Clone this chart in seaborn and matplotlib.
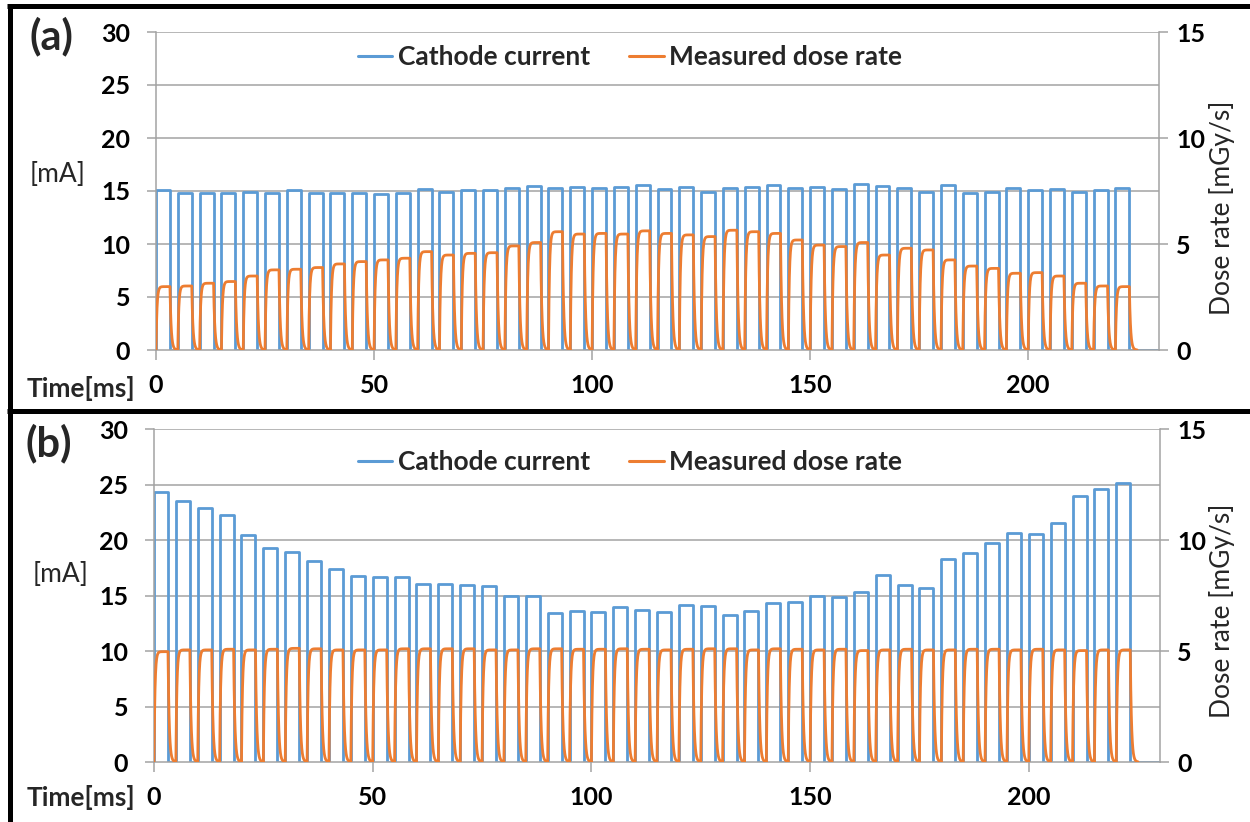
import numpy as np
import pandas as pd
import matplotlib
matplotlib.use("Agg")
import matplotlib.pyplot as plt
from matplotlib.lines import Line2D
import seaborn as sns

# ---- pulse-train timing [ms] ----
PERIOD_MS = 5.0
ON_MS = 3.2
T_END_MS = 230.0
TAU_RISE = 0.22
TAU_FALL = 0.28

# ---- (a) constant cathode current: plateau of each pulse [mA] ----
current_a = [15.10, 14.85, 14.80, 14.85, 14.95, 14.85, 15.05, 14.80, 14.85, 14.80,
             14.70, 14.85, 15.15, 14.95, 15.10, 15.05, 15.25, 15.45, 15.25, 15.40,
             15.25, 15.35, 15.55, 15.15, 15.40, 14.95, 15.25, 15.35, 15.55, 15.25,
             15.40, 15.15, 15.70, 15.45, 15.25, 14.95, 15.55, 14.85, 14.95, 15.25,
             15.10, 15.15, 14.95, 15.05, 15.25]
# measured dose rate of each pulse [mGy/s]
dose_a = [2.99, 3.02, 3.15, 3.23, 3.49, 3.78, 3.81, 3.89, 4.06, 4.17,
          4.25, 4.33, 4.64, 4.48, 4.56, 4.59, 4.91, 5.07, 5.58, 5.47,
          5.50, 5.47, 5.62, 5.50, 5.43, 5.35, 5.65, 5.58, 5.50, 5.19,
          4.95, 4.88, 5.07, 4.48, 4.80, 4.72, 4.25, 3.96, 3.85, 3.62,
          3.65, 3.49, 3.15, 3.02, 2.99]

# ---- (b) regulated dose rate: cathode current of each pulse [mA] ----
current_b = [24.35, 23.54, 22.85, 22.25, 20.45, 19.25, 18.95, 18.14, 17.36, 16.75,
             16.63, 16.63, 16.03, 16.00, 15.95, 15.86, 14.95, 14.95, 13.45, 13.63,
             13.54, 13.93, 13.69, 13.54, 14.14, 14.05, 13.24, 13.63, 14.29, 14.44,
             14.95, 14.83, 15.35, 16.85, 15.95, 15.65, 18.26, 18.86, 19.70, 20.60,
             20.54, 21.56, 23.96, 24.56, 25.10]
dose_b = [4.97, 5.05, 5.05, 5.08, 5.05, 5.08, 5.12, 5.10, 5.05, 5.05,
          5.05, 5.10, 5.10, 5.10, 5.10, 5.05, 5.05, 5.10, 5.10, 5.08,
          5.08, 5.10, 5.08, 5.05, 5.08, 5.10, 5.10, 5.05, 5.10, 5.08,
          5.05, 5.08, 5.02, 5.05, 5.08, 5.05, 5.05, 5.08, 5.08, 5.05,
          5.08, 5.05, 5.02, 5.05, 5.05]

x_ticks = [0, 50, 100, 150, 200]
left_ticks = [0, 5, 10, 15, 20, 25, 30]
right_ticks = [0, 5, 10, 15]

BLUE = "#5B9BD5"
ORANGE = "#ED7D31"
GRID = "#A3A3A3"

sns.set_theme(style="white")
plt.rcParams["font.family"] = ["Lato", "DejaVu Sans"]


def current_trace(levels):
    """Rectangular current pulses, one per period."""
    t, v = [], []
    for k, a in enumerate(levels):
        t0 = k * PERIOD_MS
        t += [t0, t0, t0 + ON_MS, t0 + ON_MS]
        v += [0.0, a, a, 0.0]
    t.append(T_END_MS)
    v.append(0.0)
    return pd.DataFrame({"t": t, "v": v})


def dose_trace(levels):
    """Detector response: first-order rise and decay around each pulse."""
    lv = np.asarray(levels, dtype=float)
    t = np.arange(0.0, len(lv) * PERIOD_MS, 0.02)
    k = np.minimum((t // PERIOD_MS).astype(int), len(lv) - 1)
    ph = t - k * PERIOD_MS
    amp = lv[k]
    rising = amp * (1 - np.exp(-ph / TAU_RISE))
    top = amp * (1 - np.exp(-ON_MS / TAU_RISE))
    falling = top * np.exp(-np.clip(ph - ON_MS, 0, None) / TAU_FALL)
    v = np.where(ph < ON_MS, rising, falling)
    return pd.DataFrame({"t": t, "v": v})


fig = plt.figure(figsize=(12.5, 8.22), dpi=100)
W, H = 1250.0, 822.0

panels = [
    dict(tag="(a)", cur=current_a, dose=dose_a,
         box=(156, 1159, 32, 350), tag_xy=(51, 36), legend_y=57,
         mA_xy=(58, 175), time_y=388, dose_lbl_y=208),
    dict(tag="(b)", cur=current_b, dose=dose_b,
         box=(154, 1160, 429, 762), tag_xy=(49, 443), legend_y=462,
         mA_xy=(61, 575), time_y=797, dose_lbl_y=611),
]

TICK_FS = 18
LEG_FS = 19
for p in panels:
    x0, x1, ytop, ybot = p["box"]
    ax = fig.add_axes([x0 / W, 1 - ybot / H, (x1 - x0) / W, (ybot - ytop) / H])
    ax.set_facecolor("none")

    sns.lineplot(data=current_trace(p["cur"]), x="t", y="v", ax=ax, color=BLUE,
                 lw=2.0, estimator=None, sort=False, legend=False)
    ax2 = ax.twinx()
    sns.lineplot(data=dose_trace(p["dose"]), x="t", y="v", ax=ax2, color=ORANGE,
                 lw=2.0, estimator=None, sort=False, legend=False)

    ax.set_xlim(0, T_END_MS)
    ax.set_ylim(0, 30)
    ax2.set_ylim(0, 15)
    ax.set_xticks(x_ticks)
    ax.set_yticks(left_ticks)
    ax2.set_yticks(right_ticks)
    for a in (ax, ax2):
        a.set_xlabel("")
        a.set_ylabel("")

    ax.grid(False)
    ax2.grid(False)
    for yv in left_ticks[1:]:
        ax.axhline(yv, color=GRID, lw=1.1, zorder=0)

    for s in ("top", "right"):
        ax.spines[s].set_visible(False)
    for s in ("top", "left", "bottom"):
        ax2.spines[s].set_visible(False)
    for s in (ax.spines["left"], ax.spines["bottom"], ax2.spines["right"]):
        s.set_color(GRID)
        s.set_linewidth(1.1)

    ax.tick_params(axis="y", direction="out", length=6.5, width=1.1, color=GRID,
                   pad=12, labelsize=TICK_FS, left=True)
    ax.tick_params(axis="x", direction="out", length=7, width=1.1, color=GRID,
                   pad=10, labelsize=TICK_FS, bottom=True)
    ax2.tick_params(axis="y", direction="out", length=6.5, width=1.1, color=GRID,
                    pad=6, labelsize=TICK_FS, right=True)
    for lab in ax.get_xticklabels() + ax.get_yticklabels() + ax2.get_yticklabels():
        lab.set_fontweight("bold")
        lab.set_color("black")

    handles = [Line2D([], [], color=BLUE, lw=2.2), Line2D([], [], color=ORANGE, lw=2.2)]
    fig.legend(handles, ["Cathode current", "Measured dose rate"],
               loc="center", bbox_to_anchor=(630 / W, 1 - p["legend_y"] / H),
               ncol=2, frameon=False, handlelength=1.3, handletextpad=0.2,
               columnspacing=1.5, prop=dict(size=LEG_FS, weight="bold"))

    tx, ty = p["tag_xy"]
    fig.text(tx / W, 1 - ty / H, p["tag"], fontsize=30, fontweight="bold",
             ha="center", va="center")
    mx, my = p["mA_xy"]
    fig.text(mx / W, 1 - my / H, "[mA]", fontsize=TICK_FS + 1, ha="center", va="center")
    fig.text(135 / W, 1 - p["time_y"] / H, "Time[ms]", fontsize=TICK_FS + 1,
             fontweight="bold", ha="right", va="center")
    fig.text(1222 / W, 1 - p["dose_lbl_y"] / H, "Dose rate [mGy/s]", fontsize=TICK_FS + 1,
             rotation=90, ha="center", va="center")

# black panel frame
frame_kw = dict(color="black", lw=3.6, solid_capstyle="butt")
fig.add_artist(Line2D([9.5 / W, 9.5 / W], [0, 1 - 4 / H], **frame_kw))
fig.add_artist(Line2D([7 / W, 1], [1 - 6.5 / H, 1 - 6.5 / H], **frame_kw))
fig.add_artist(Line2D([7 / W, 1], [1 - 411 / H, 1 - 411 / H], **frame_kw))

fig.savefig("out.png", dpi=100, facecolor="white")
